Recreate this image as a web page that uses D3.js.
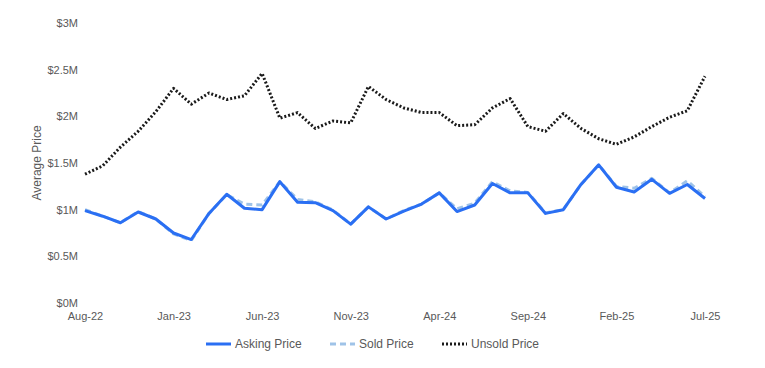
<!DOCTYPE html>
<html>
<head>
<meta charset="utf-8">
<script src="https://cdn.jsdelivr.net/npm/d3@7"></script>
<style>
  body { margin: 0; background: #fff; }
  text { font-family: "Liberation Sans", Arial, sans-serif; }
</style>
</head>
<body>
<div id="chart"></div>
<script>
// monthly series, Aug-22 .. Jul-25
var months = ["Aug-22","Sep-22","Oct-22","Nov-22","Dec-22","Jan-23","Feb-23","Mar-23","Apr-23","May-23","Jun-23","Jul-23",
  "Aug-23","Sep-23","Oct-23","Nov-23","Dec-23","Jan-24","Feb-24","Mar-24","Apr-24","May-24","Jun-24","Jul-24",
  "Aug-24","Sep-24","Oct-24","Nov-24","Dec-24","Jan-25","Feb-25","Mar-25","Apr-25","May-25","Jun-25","Jul-25"];

var askingPrice = [0.99, 0.93, 0.86, 0.975, 0.90, 0.75, 0.68, 0.96, 1.165, 1.015, 1.0, 1.30,
  1.08, 1.075, 0.99, 0.845, 1.03, 0.90, 0.985, 1.06, 1.18, 0.98, 1.05, 1.28,
  1.18, 1.18, 0.96, 1.0, 1.27, 1.48, 1.24, 1.19, 1.325, 1.175, 1.27, 1.12];

var soldPrice = [1.0, 0.93, 0.86, 0.98, 0.90, 0.74, 0.67, 0.96, 1.16, 1.06, 1.05, 1.30,
  1.11, 1.085, 0.995, 0.845, 1.03, 0.90, 0.99, 1.06, 1.18, 1.01, 1.07, 1.30,
  1.20, 1.185, 0.965, 1.0, 1.27, 1.48, 1.25, 1.23, 1.335, 1.18, 1.31, 1.14];

var unsoldPrice = [1.38, 1.47, 1.67, 1.84, 2.05, 2.30, 2.13, 2.25, 2.18, 2.22, 2.46, 1.98,
  2.04, 1.87, 1.95, 1.93, 2.32, 2.18, 2.09, 2.04, 2.04, 1.90, 1.91, 2.09,
  2.19, 1.89, 1.84, 2.03, 1.87, 1.76, 1.70, 1.78, 1.89, 1.99, 2.06, 2.43];

var yTicks = [0, 0.5, 1, 1.5, 2, 2.5, 3];
var yTickLabels = ["$0M", "$0.5M", "$1M", "$1.5M", "$2M", "$2.5M", "$3M"];
var xTickLabels = ["Aug-22", "Jan-23", "Jun-23", "Nov-23", "Apr-24", "Sep-24", "Feb-25", "Jul-25"];

var series = [
  { name: "Asking Price", values: askingPrice, color: "#2a6ff3", dash: null, width: 3 },
  { name: "Sold Price", values: soldPrice, color: "#9fc3e8", dash: "6,4", width: 3 },
  { name: "Unsold Price", values: unsoldPrice, color: "#1a1a1a", dash: "2,2", width: 3 }
];

var width = 765, height = 368;
var margin = { left: 85, right: 60, top: 23, bottom: 65 };
var textColor = "#595959";

var svg = d3.select("#chart").append("svg")
  .attr("width", width)
  .attr("height", height);

var x = d3.scalePoint().domain(months).range([margin.left, width - margin.right]);
var y = d3.scaleLinear().domain([0, 3]).range([height - margin.bottom, margin.top]);

// y axis labels
var yAxis = d3.axisLeft(y).tickValues(yTicks)
  .tickFormat(function (d, i) { return yTickLabels[i]; })
  .tickSize(0).tickPadding(7);
var gy = svg.append("g").attr("transform", "translate(" + margin.left + ",0)").call(yAxis);
gy.select(".domain").remove();
gy.selectAll("text").attr("fill", textColor).style("font-size", "11px");

// x axis labels
var xAxis = d3.axisBottom(x).tickValues(xTickLabels).tickSize(0).tickPadding(9);
var gx = svg.append("g").attr("transform", "translate(0," + (height - margin.bottom) + ")").call(xAxis);
gx.select(".domain").remove();
gx.selectAll("text").attr("fill", textColor).style("font-size", "11px");

// axis title
svg.append("text")
  .attr("transform", "translate(41," + ((margin.top + height - margin.bottom) / 2) + ") rotate(-90)")
  .attr("text-anchor", "middle")
  .attr("fill", textColor)
  .style("font-size", "12px")
  .text("Average Price");

var line = d3.line()
  .x(function (d, i) { return x(months[i]); })
  .y(function (d) { return y(d); });

// draw unsold first, then sold under asking
[series[2], series[1], series[0]].forEach(function (s) {
  svg.append("path")
    .datum(s.values)
    .attr("d", line)
    .attr("fill", "none")
    .attr("stroke", s.color)
    .attr("stroke-width", s.width)
    .attr("stroke-linejoin", "round")
    .attr("stroke-dasharray", s.dash);
});

// legend
var legendX = [206, 330, 442];
var legend = svg.append("g").attr("transform", "translate(0,344)");
series.forEach(function (s, i) {
  var g = legend.append("g").attr("transform", "translate(" + legendX[i] + ",0)");
  g.append("line")
    .attr("x1", 0).attr("x2", 25).attr("y1", 0).attr("y2", 0)
    .attr("stroke", s.color)
    .attr("stroke-width", s.width)
    .attr("stroke-dasharray", s.dash);
  g.append("text")
    .attr("x", 29).attr("y", 4)
    .attr("fill", textColor)
    .style("font-size", "12px")
    .text(s.name);
});
</script>
</body>
</html>
